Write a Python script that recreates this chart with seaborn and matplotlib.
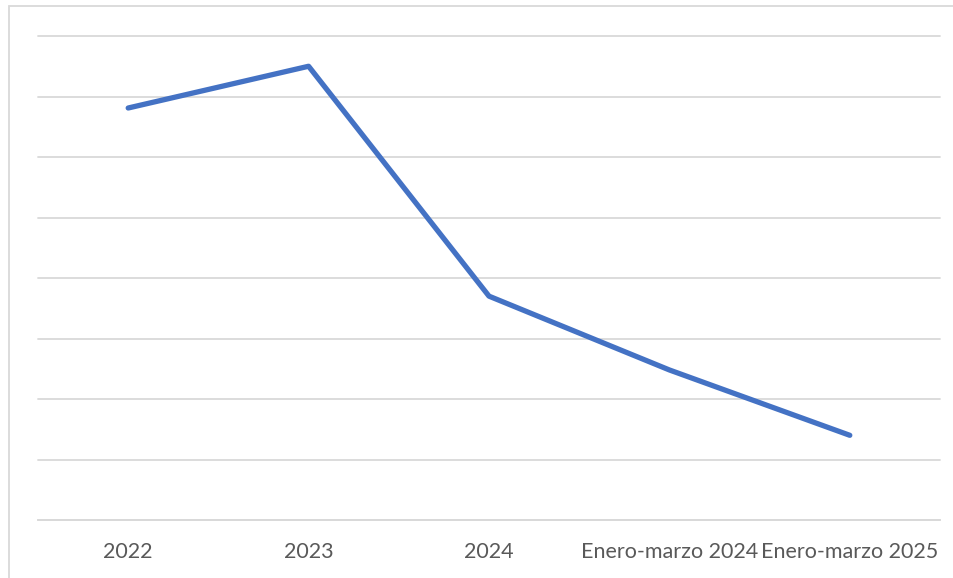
import matplotlib
matplotlib.use("Agg")
import matplotlib.pyplot as plt
import seaborn as sns
import pandas as pd
from matplotlib.patches import Rectangle

categories = ["2022", "2023", "2024", "Enero-marzo 2024", "Enero-marzo 2025"]
values = [6.81, 7.50, 3.70, 2.48, 1.40]

df = pd.DataFrame({"cat": categories, "val": values})

sns.set_theme(style="white")
plt.rcParams["font.family"] = ["Lato", "DejaVu Sans"]

W, H = 954, 578
fig = plt.figure(figsize=(W / 100, H / 100), dpi=100)
ax = fig.add_axes([38 / W, (H - 520) / H, (940 - 38) / W, (520 - 36) / H])

sns.lineplot(data=df, x="cat", y="val", ax=ax, color="#4472C4", linewidth=3.8,
             sort=False, solid_capstyle="round")

ax.set_xlim(-0.5, len(categories) - 0.5)
ax.set_ylim(0, 8)
ax.set_yticks(range(0, 9))
ax.set_yticklabels([])
ax.grid(axis="y", color="#D9D9D9", linewidth=1.3)
for gl in ax.get_ygridlines():
    gl.set_clip_on(False)
ax.set_axisbelow(True)
for s in ["top", "right", "left"]:
    ax.spines[s].set_visible(False)
ax.spines["bottom"].set_color("#D9D9D9")
ax.spines["bottom"].set_linewidth(1.3)
ax.tick_params(axis="both", length=0)
ax.tick_params(axis="x", pad=16, labelsize=15.5, labelcolor="#595959")
ax.set_xlabel("")
ax.set_ylabel("")

fig.patches.append(Rectangle((9 / W, -0.1), 1.2, (H - 6) / H + 0.1,
                             transform=fig.transFigure, fill=False,
                             edgecolor="#D9D9D9", linewidth=1.3))

fig.savefig("out.png", dpi=100)
